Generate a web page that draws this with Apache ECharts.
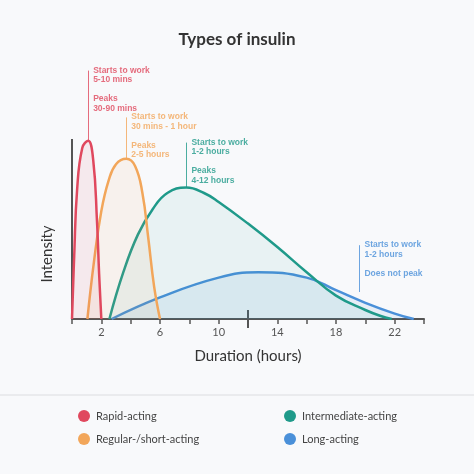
<!DOCTYPE html><html><head><meta charset="utf-8">
<script src="https://cdn.jsdelivr.net/npm/echarts@6/dist/echarts.min.js"></script>
<style>html,body{margin:0;padding:0;background:#f8f9fb}#c{width:474px;height:474px}</style></head><body><div id="c"></div>
<script>
const rapid=[[0,0],[0.15,35],[0.35,72],[0.7,95],[1.1,99],[1.45,88],[1.7,55],[1.85,25],[2.0,0]];
const regular=[[1.05,0],[1.5,32],[2,60],[2.5,77],[3,86],[3.7,89],[4.3,85],[4.8,70],[5.2,45],[5.6,18],[6,0]];
const inter=[[2.55,0],[3.5,26],[4.5,47],[5.5,61],[6.5,70],[7.8,73],[9,70],[10,65],[12,53],[14,40],[16,26],[18,13],[20,5],[21,1.8],[21.8,0]];
const longA=[[2.7,0],[6,12],[10,23],[12.7,26],[16,23],[18,16],[20,9],[22,3],[23.3,0]];
const tickLabels=[2,6,10,14,18,22];
const names=['Rapid-acting','Regular-/short-acting','Intermediate-acting','Long-acting'];
const colors=['#e0485e','#f2a65a','#1f9a8a','#4a90d9'];
const fills=['rgba(224,72,94,0.12)','rgba(242,166,90,0.12)','rgba(31,154,138,0.10)','rgba(74,144,217,0.14)'];
const notes=[
 {x:1.1,y0:99,y1:138,c:colors[0],t:['Starts to work','5-10 mins','','Peaks','30-90 mins']},
 {x:3.7,y0:89,y1:112,c:colors[1],t:['Starts to work','30 mins - 1 hour','','Peaks','2-5 hours']},
 {x:7.8,y0:73,y1:98,c:colors[2],t:['Starts to work','1-2 hours','','Peaks','4-12 hours']},
 {x:19.6,y0:15,y1:41,c:colors[3],t:['Starts to work','1-2 hours','','Does not peak']}
];
const chart=echarts.init(document.getElementById('c'));
const data=[rapid,regular,inter,longA];
const series=data.map((d,i)=>({type:'line',name:names[i],data:d,smooth:0.45,symbol:'none',
  lineStyle:{color:colors[i],width:2.5},areaStyle:{color:fills[i]},z:5-i,
  markLine:{silent:true,symbol:'none',label:{show:true,position:'end',formatter:notes[i].t.join('\n'),color:colors[i],fontSize:8.5,fontWeight:'bold',lineHeight:9.5,align:'left',verticalAlign:'top',padding:[0,0,0,5]},
   lineStyle:{color:colors[i],width:1,type:'solid',opacity:0.8},
   data:[[{coord:[notes[i].x,notes[i].y0]},{coord:[notes[i].x,notes[i].y1]}]]}}));
series.push({type:'line',data:[],markLine:{silent:true,symbol:'none',label:{show:false},lineStyle:{color:'#555',width:2,type:'solid'},
  data:[[{coord:[0,0]},{coord:[0,100]}],[{coord:[-0.5,100]},{coord:[0.5,100]}]]}});
chart.setOption({animation:false,backgroundColor:'#f8f9fb',
 title:{text:'Types of insulin',left:'center',top:26,textStyle:{fontFamily:'Lato',fontSize:17,fontWeight:'bold',color:'#333'}},
 grid:{left:72,right:50,top:67,bottom:155},
 xAxis:{type:'value',min:0,max:24,interval:2,name:'Duration (hours)',nameLocation:'middle',nameGap:30,
  nameTextStyle:{fontFamily:'Lato',fontSize:15,color:'#333'},
  axisLine:{lineStyle:{color:'#555',width:2}},axisTick:{length:5,lineStyle:{color:'#555',width:1.5}},
  splitLine:{show:false},axisLabel:{fontFamily:'Lato',fontSize:11,color:'#555',formatter:v=>tickLabels.includes(v)?String(v):''}},
 yAxis:{type:'value',min:0,max:140,show:true,axisLine:{show:false},axisTick:{show:false},axisLabel:{show:false},splitLine:{show:false}},
 series:series});
const p0=chart.convertToPixel({xAxisIndex:0,yAxisIndex:0},[12,0]);
const g=[{type:'line',shape:{x1:p0[0],y1:p0[1]-9,x2:p0[0],y2:p0[1]+9},style:{stroke:'#555',lineWidth:2}},
 {type:'line',shape:{x1:0,y1:395,x2:474,y2:395},style:{stroke:'#dcdde0',lineWidth:1}},
 {type:'text',x:47,y:254,rotation:Math.PI/2,style:{text:'Intensity',fill:'#333',fontFamily:'Lato',fontSize:15,align:'center',verticalAlign:'middle'}}];
const pos=[[84,416],[84,439],[290,416],[290,439]];
names.forEach((n,i)=>{g.push({type:'circle',shape:{cx:pos[i][0],cy:pos[i][1],r:6},style:{fill:colors[i]}});
 g.push({type:'text',x:pos[i][0]+12,y:pos[i][1],style:{text:n,fill:'#444',fontFamily:'Lato',fontSize:11,verticalAlign:'middle'}});});
chart.setOption({graphic:g});
</script></body></html>
